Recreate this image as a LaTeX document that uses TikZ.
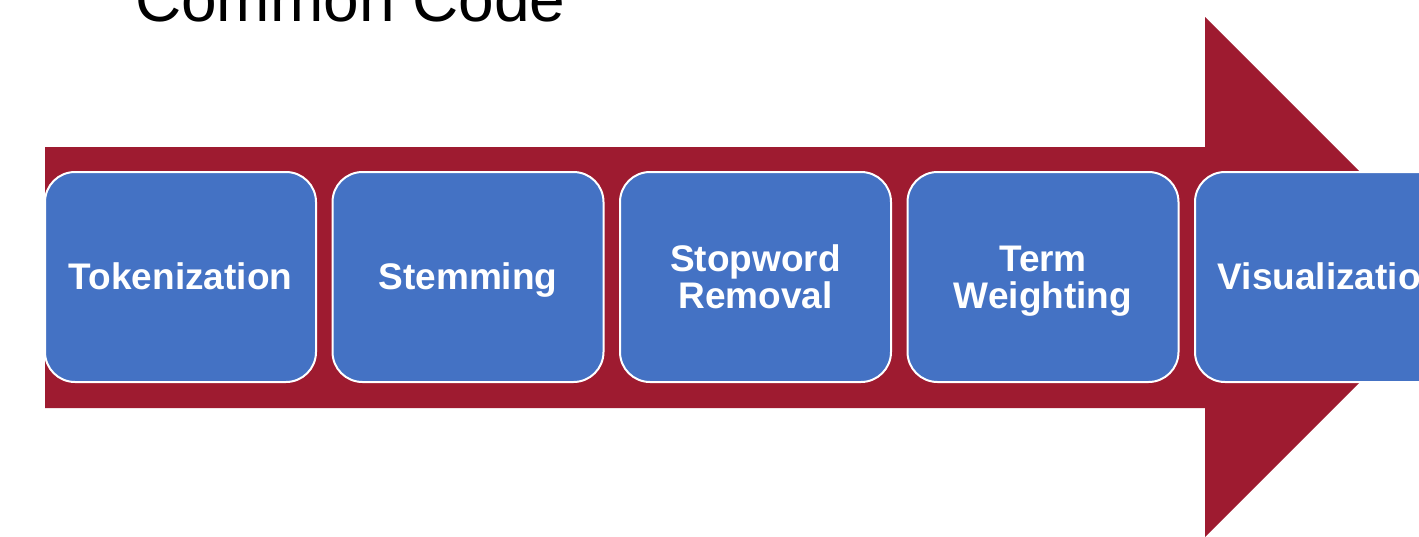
\documentclass[tikz,border=0pt]{standalone}
\usepackage{fontspec}
\setmainfont{Liberation Sans}
\definecolor{arrowred}{RGB}{158,27,48}
\definecolor{boxblue}{RGB}{68,114,196}
\newcommand\linestrut{\rule[-0.212em]{0pt}{1.117em}}
\newcommand\stepfont{\bfseries\fontsize{37}{37}\selectfont\lineskiplimit=-100pt\relax\lineskip=0pt\relax}
\begin{document}
\begin{tikzpicture}[x=1pt,y=-1pt,
  stepbox/.style={draw=white, line width=2pt, fill=boxblue, rounded corners=30pt,
    minimum width=271pt, minimum height=210pt, inner sep=0pt, align=center,
    text=white, font=\stepfont},
  titletext/.style={font=\fontsize{64}{64}\selectfont, text=black, inner sep=0pt, anchor=base west}]
\useasboundingbox (0,0) rectangle (1419,536);
\clip (0,0) rectangle (1419,536);
\fill[white] (0,0) rectangle (1419,536);
\node[titletext] (title) at (135,21) {Common Code};
\fill[arrowred] (45,147) -- (1205,147) -- (1205,17) -- (1465,277) -- (1205,537) -- (1205,408) -- (45,408) -- cycle;
\node[stepbox] (b1) at (180.5,277) {\linestrut Tokenization};
\node[stepbox] (b2) at (468,277) {\linestrut Stemming};
\node[stepbox] (b3) at (755.5,277) {\linestrut Stopword\\\linestrut Removal};
\node[stepbox] (b4) at (1043,277) {\linestrut Term\\\linestrut Weighting};
\node[stepbox] (b5) at (1330.5,277) {\linestrut Visualization};
\end{tikzpicture}
\end{document}
